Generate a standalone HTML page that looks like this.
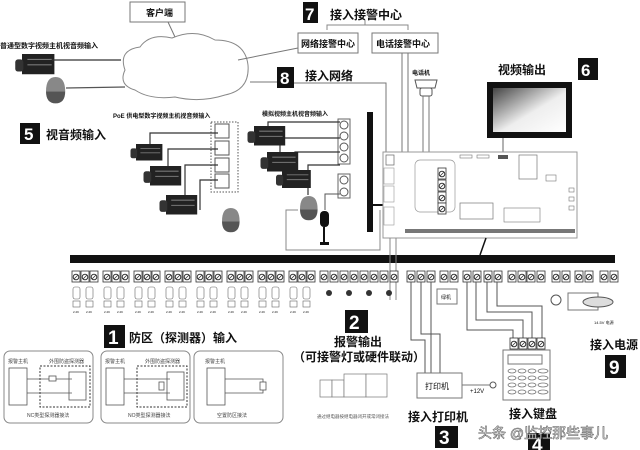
<!DOCTYPE html>
<html><head><meta charset="utf-8">
<style>
html,body{margin:0;padding:0;background:#fff;width:640px;height:450px;overflow:hidden}
svg{display:block}
text{font-family:"Liberation Sans","Noto Sans CJK SC",sans-serif;fill:#111}
.b{font-weight:bold}
</style></head><body>
<svg width="640" height="450" viewBox="0 0 640 450" xmlns="http://www.w3.org/2000/svg">
<defs>
<g id="cam">
 <rect x="0" y="0" width="24" height="15" fill="#222"/>
 <rect x="-5" y="4" width="6" height="9" fill="#333" rx="2"/>
 <line x1="4" y1="4" x2="22" y2="4" stroke="#777" stroke-width="0.8"/>
 <line x1="4" y1="8" x2="22" y2="8" stroke="#777" stroke-width="0.8"/>
</g>
<g id="dome">
 <path d="M0 12 Q0 0 8 0 Q16 0 16 12 Z" fill="#888"/>
 <path d="M0 12 L16 12 Q16 22 8 22 Q0 22 0 12Z" fill="#555"/>
</g>
<g id="scr">
 <rect x="0" y="0" width="8" height="11" fill="#fff" stroke="#333" stroke-width="0.8"/>
 <circle cx="4" cy="6" r="2.8" fill="none" stroke="#333" stroke-width="1"/>
 <line x1="2" y1="8" x2="6" y2="4" stroke="#333" stroke-width="0.8"/>
</g>
<g id="zone">
 <use href="#scr" x="0"/><use href="#scr" x="9"/><use href="#scr" x="18"/>
 <rect x="1" y="16" width="7" height="12" fill="none" stroke="#666" stroke-width="0.6" rx="2"/>
 <rect x="14" y="16" width="7" height="12" fill="none" stroke="#666" stroke-width="0.6" rx="2"/>
 <rect x="1" y="30" width="7" height="6" fill="none" stroke="#666" stroke-width="0.6"/>
 <rect x="14" y="30" width="7" height="6" fill="none" stroke="#666" stroke-width="0.6"/>
 <text x="1" y="42" font-size="3" fill="#555">2.2K</text><text x="14" y="42" font-size="3" fill="#555">2.2K</text>
</g>
<linearGradient id="mg" x1="0" y1="0" x2="1" y2="1"><stop offset="0" stop-color="#444"/><stop offset="0.55" stop-color="#eee"/><stop offset="1" stop-color="#fff"/></linearGradient>
</defs>

<!-- client & cloud -->
<rect x="130" y="2" width="55" height="20" fill="#fff" stroke="#777"/>
<text x="146" y="16" font-size="9" class="b">客户端</text>
<line x1="168" y1="22" x2="175" y2="37" stroke="#777"/>
<path d="M125 70 Q118 50 140 47 Q150 33 172 38 Q195 28 215 40 Q245 40 248 65 Q250 90 225 95 Q200 103 175 97 Q150 100 135 90 Q118 85 125 70Z" fill="#fff" stroke="#888"/>
<text x="0" y="48" font-size="7" class="b">普通型数字视频主机视音频输入</text>
<use href="#cam" transform="translate(22,54) scale(1.35)"/>
<line x1="52" y1="60" x2="121" y2="60" stroke="#333" stroke-width="1.2"/>
<use href="#dome" transform="translate(46,77) scale(1.2)"/>
<line x1="66" y1="88" x2="125" y2="87" stroke="#555" stroke-width="1.2"/>
<line x1="238" y1="60" x2="298" y2="48" stroke="#777"/>
<line x1="250" y1="82" x2="277" y2="82" stroke="#777"/>

<!-- 7 -->
<rect x="303" y="2" width="15" height="21" fill="#111"/>
<text x="305" y="20" font-size="17" class="b" style="fill:#fff">7</text>
<text x="330" y="19" font-size="12" class="b">接入接警中心</text>
<path d="M327 30 V25 H408 V30 M365 25 V20" fill="none" stroke="#888"/>
<rect x="298" y="33" width="60" height="20" fill="#fff" stroke="#777"/>
<text x="301" y="47" font-size="9" class="b">网络接警中心</text>
<rect x="372" y="33" width="66" height="20" fill="#fff" stroke="#777"/>
<text x="376" y="47" font-size="9" class="b">电话接警中心</text>
<!-- 8 -->
<rect x="277" y="67" width="17" height="21" fill="#111"/>
<text x="280" y="84" font-size="17" class="b" style="fill:#fff">8</text>
<text x="305" y="80" font-size="12" class="b">接入网络</text>
<polyline points="294,83 386,83 386,155" fill="none" stroke="#777"/>
<polyline points="402,53 402,203 435,203" fill="none" stroke="#777"/>
<polyline points="408,53 408,198 430,198" fill="none" stroke="#777"/>
<text x="412" y="75" font-size="6" class="b">电话机</text>
<path d="M415 80 H437 L435 88 H417Z" fill="#fff" stroke="#555"/>
<rect x="420" y="88" width="12" height="8" fill="#fff" stroke="#555" rx="2"/>
<polyline points="423,96 423,176 438,176" fill="none" stroke="#777"/>
<polyline points="429,96 429,168 438,168" fill="none" stroke="#777"/>

<!-- 6 monitor -->
<text x="498" y="74" font-size="12" class="b">视频输出</text>
<rect x="578" y="58" width="20" height="22" fill="#111"/>
<text x="581" y="76" font-size="17" class="b" style="fill:#fff">6</text>
<rect x="487" y="82" width="85" height="56" fill="#111"/>
<rect x="493" y="88" width="73" height="44" fill="url(#mg)"/>
<line x1="503" y1="138" x2="503" y2="158" stroke="#666"/>

<!-- black bar -->
<rect x="367" y="112" width="6" height="120" fill="#111"/>
<line x1="373" y1="205" x2="383" y2="205" stroke="#111" stroke-width="2"/>
<!-- board -->
<rect x="383" y="152" width="194" height="86" fill="#fff" stroke="#999"/>
<rect x="386" y="155" width="8" height="10" fill="none" stroke="#666" stroke-width="0.7"/>
<rect x="384" y="168" width="10" height="16" fill="none" stroke="#999" stroke-width="0.6"/>
<rect x="384" y="186" width="10" height="16" fill="none" stroke="#999" stroke-width="0.6"/>
<rect x="384" y="207" width="10" height="18" fill="none" stroke="#999" stroke-width="0.6"/>
<rect x="415" y="160" width="40" height="52" fill="none" stroke="#999" stroke-width="0.7" rx="5"/>
<use href="#scr" x="438" y="168"/><use href="#scr" x="438" y="180"/><use href="#scr" x="438" y="192"/><use href="#scr" x="438" y="203"/>
<rect x="460" y="203" width="33" height="16" fill="none" stroke="#777" stroke-width="0.7"/>
<rect x="460" y="155" width="12" height="3" fill="none" stroke="#777" stroke-width="0.6"/>
<rect x="477" y="155" width="12" height="3" fill="none" stroke="#777" stroke-width="0.6"/>
<rect x="498" y="155" width="10" height="4" fill="#555"/>
<rect x="519" y="155" width="18" height="24" fill="none" stroke="#777" stroke-width="0.7"/>
<rect x="546" y="175" width="10" height="6" fill="none" stroke="#777" stroke-width="0.6"/>
<rect x="569" y="188" width="5" height="4" fill="none" stroke="#777" stroke-width="0.6"/>
<rect x="569" y="197" width="5" height="4" fill="none" stroke="#777" stroke-width="0.6"/>
<rect x="569" y="206" width="5" height="4" fill="none" stroke="#777" stroke-width="0.6"/>
<rect x="504" y="208" width="36" height="14" fill="none" stroke="#777" stroke-width="0.6"/>
<rect x="405" y="229" width="170" height="4" fill="#777"/>
<line x1="486" y1="238" x2="480" y2="255" stroke="#111" stroke-width="1.5"/>

<!-- 5 -->
<rect x="20" y="123" width="20" height="21" fill="#111"/>
<text x="24" y="140" font-size="17" class="b" style="fill:#fff">5</text>
<text x="46" y="139" font-size="12" class="b">视音频输入</text>
<text x="113" y="118" font-size="6" class="b">PoE 供电型数字视频主机视音频输入</text>
<rect x="211" y="122" width="27" height="70" fill="none" stroke="#555" stroke-dasharray="1.5,1.5"/>
<rect x="215" y="124" width="14" height="14" fill="#fff" stroke="#555"/>
<rect x="215" y="141" width="14" height="14" fill="#fff" stroke="#555"/>
<rect x="215" y="158" width="14" height="14" fill="#fff" stroke="#555"/>
<rect x="215" y="174" width="14" height="14" fill="#fff" stroke="#555"/>
<polyline points="150,150 150,133 218,133" fill="none" stroke="#333" stroke-width="1.2"/>
<polyline points="168,168 168,149 218,149" fill="none" stroke="#333" stroke-width="1.2"/>
<polyline points="185,196 185,165 218,165" fill="none" stroke="#333" stroke-width="1.2"/>
<polyline points="200,210 200,180 218,180" fill="none" stroke="#333" stroke-width="1.2"/>
<use href="#cam" transform="translate(136,144) scale(1.1)"/>
<use href="#cam" transform="translate(150,166) scale(1.3)"/>
<use href="#cam" transform="translate(166,195) scale(1.3)"/>
<use href="#dome" transform="translate(222,208) scale(1.1)"/>
<text x="262" y="116" font-size="6" class="b">模拟视频主机视音频输入</text>
<rect x="338" y="119" width="12" height="45" fill="#fff" stroke="#666"/>
<circle cx="344" cy="125" r="4" fill="none" stroke="#555"/><circle cx="344" cy="136" r="4" fill="none" stroke="#555"/>
<circle cx="344" cy="147" r="4" fill="none" stroke="#555"/><circle cx="344" cy="158" r="4" fill="none" stroke="#555"/>
<rect x="338" y="174" width="12" height="24" fill="#fff" stroke="#666"/>
<circle cx="344" cy="180" r="4" fill="none" stroke="#555"/><circle cx="344" cy="192" r="4" fill="none" stroke="#555"/>
<polyline points="268,128 268,122 340,122" fill="none" stroke="#333" stroke-width="1.2"/>
<polyline points="280,152 280,138 340,138" fill="none" stroke="#333" stroke-width="1.2"/>
<polyline points="295,170 295,152 340,152" fill="none" stroke="#333" stroke-width="1.2"/>
<polyline points="308,195 308,165 340,165" fill="none" stroke="#333" stroke-width="1.2"/>
<polyline points="325,210 325,194 340,194" fill="none" stroke="#555"/>
<use href="#cam" transform="translate(254,126) scale(1.3)"/>
<use href="#cam" transform="translate(267,152) scale(1.3)"/>
<use href="#cam" transform="translate(282,170) scale(1.2)"/>
<use href="#dome" transform="translate(300,196) scale(1.1)"/>
<rect x="320" y="211" width="9" height="16" rx="4" fill="#111"/>
<line x1="324" y1="227" x2="324" y2="242" stroke="#111" stroke-width="2"/>
<rect x="320" y="242" width="9" height="3" fill="#111"/>
<polyline points="298,210 286,210 286,250 380,250 380,210" fill="none" stroke="#888"/>

<!-- bus -->
<rect x="70" y="255" width="545" height="8" fill="#111"/>
<line x1="390" y1="238" x2="390" y2="300" stroke="#888"/>
<line x1="396" y1="238" x2="396" y2="300" stroke="#888"/>

<!-- zones -->
<g transform="translate(72,271)">
<use href="#zone" x="0"/><use href="#zone" x="31"/><use href="#zone" x="62"/><use href="#zone" x="93"/>
<use href="#zone" x="124"/><use href="#zone" x="155"/><use href="#zone" x="186"/><use href="#zone" x="217"/>
</g>
<!-- outputs -->
<g transform="translate(320,271)">
<use href="#scr" x="0"/><use href="#scr" x="10"/><use href="#scr" x="20"/><use href="#scr" x="30"/>
<use href="#scr" x="40"/><use href="#scr" x="50"/><use href="#scr" x="60"/><use href="#scr" x="70"/>
<circle cx="9" cy="22" r="3" fill="#333"/><circle cx="29" cy="22" r="3" fill="#333"/><circle cx="49" cy="22" r="3" fill="#333"/><circle cx="69" cy="22" r="3" fill="#333"/>
</g>
<g transform="translate(407,271)">
<use href="#scr" x="0"/><use href="#scr" x="10"/><use href="#scr" x="20"/>
<use href="#scr" x="33"/><use href="#scr" x="43"/>
<use href="#scr" x="56"/><use href="#scr" x="66"/><use href="#scr" x="77"/><use href="#scr" x="87"/>
<use href="#scr" x="101"/><use href="#scr" x="111"/>
<use href="#scr" x="120"/><use href="#scr" x="130"/>
<use href="#scr" x="145"/><use href="#scr" x="155"/>
<use href="#scr" x="168"/><use href="#scr" x="178"/>
<use href="#scr" x="193"/><use href="#scr" x="203"/>
</g>
<rect x="437" y="289" width="20" height="15" fill="#fff" stroke="#777"/>
<text x="441" y="299" font-size="5">绿机</text>
<circle cx="556" cy="300" r="5" fill="#fff" stroke="#555"/>
<rect x="568" y="293" width="30" height="17" fill="#fff" stroke="#777"/>
<ellipse cx="598" cy="302" rx="15" ry="5" fill="#ddd" stroke="#555"/>
<text x="594" y="324" font-size="4">14.5V 电源</text>

<!-- printer lines -->
<polyline points="411,282 411,340 425,340 425,373" fill="none" stroke="#555"/>
<polyline points="421,282 421,334 440,334 440,373" fill="none" stroke="#555"/>
<polyline points="431,282 431,373" fill="none" stroke="#555"/>
<rect x="417" y="373" width="45" height="25" fill="#fff" stroke="#777"/>
<text x="425" y="389" font-size="8">打印机</text>
<line x1="462" y1="385" x2="490" y2="385" stroke="#777"/>
<circle cx="493" cy="385" r="3" fill="#fff" stroke="#555"/>
<text x="470" y="393" font-size="6">+12V</text>
<!-- keyboard lines -->
<polyline points="467,282 467,330 513,330 513,338" fill="none" stroke="#555"/>
<polyline points="476,282 476,320 523,320 523,338" fill="none" stroke="#555"/>
<polyline points="487,282 487,312 532,312 532,338" fill="none" stroke="#555"/>
<polyline points="497,282 497,306 542,306 542,338" fill="none" stroke="#555"/>
<use href="#scr" x="510" y="338"/><use href="#scr" x="519" y="338"/><use href="#scr" x="528" y="338"/><use href="#scr" x="537" y="338"/>
<rect x="503" y="350" width="47" height="50" fill="#fff" stroke="#777"/>
<rect x="508" y="355" width="34" height="9" fill="#fff" stroke="#777"/>
<g fill="none" stroke="#777" stroke-width="0.8">
<ellipse cx="512" cy="371" rx="4" ry="2"/><ellipse cx="522" cy="371" rx="4" ry="2"/><ellipse cx="532" cy="371" rx="4" ry="2"/><ellipse cx="543" cy="371" rx="5" ry="2"/>
<ellipse cx="512" cy="378" rx="4" ry="2"/><ellipse cx="522" cy="378" rx="4" ry="2"/><ellipse cx="532" cy="378" rx="4" ry="2"/><ellipse cx="543" cy="378" rx="5" ry="2"/>
<ellipse cx="512" cy="385" rx="4" ry="2"/><ellipse cx="522" cy="385" rx="4" ry="2"/><ellipse cx="532" cy="385" rx="4" ry="2"/><ellipse cx="543" cy="385" rx="5" ry="2"/>
<ellipse cx="512" cy="392" rx="4" ry="2"/><ellipse cx="522" cy="392" rx="4" ry="2"/><ellipse cx="532" cy="392" rx="4" ry="2"/><ellipse cx="543" cy="392" rx="5" ry="2"/>
</g>

<!-- 1 -->
<rect x="104" y="325" width="21" height="23" fill="#111"/>
<text x="108" y="344" font-size="19" class="b" style="fill:#fff">1</text>
<text x="129" y="342" font-size="12" class="b">防区（探测器）输入</text>
<g fill="none" stroke="#888">
<rect x="4" y="351" width="89" height="72" rx="6"/>
<rect x="101" y="351" width="89" height="72" rx="6"/>
<rect x="194" y="351" width="89" height="72" rx="6"/>
</g>
<g fill="#fff" stroke="#555" stroke-width="0.8">
<rect x="9" y="368" width="18" height="37"/>
<rect x="106" y="368" width="18" height="37"/>
<rect x="207" y="368" width="18" height="37"/>
<rect x="69" y="372" width="17" height="28"/>
<rect x="167" y="372" width="17" height="28"/>
</g>
<g fill="none" stroke="#333" stroke-dasharray="2,1.5">
<rect x="40" y="366" width="50" height="41"/>
<rect x="137" y="366" width="50" height="41"/>
</g>
<g stroke="#555" fill="none" stroke-width="0.8">
<line x1="27" y1="379" x2="72" y2="379"/><line x1="27" y1="393" x2="72" y2="393"/>
<rect x="49" y="376" width="7" height="5" fill="#fff"/>
<line x1="124" y1="379" x2="170" y2="379"/><line x1="124" y1="393" x2="170" y2="393"/>
<rect x="159" y="382" width="5" height="8" fill="#fff"/>
<polyline points="225,379 263,379 263,393 225,393"/>
<rect x="260" y="382" width="6" height="8" fill="#fff"/>
</g>
<g font-size="5">
<text x="8" y="363" style="fill:#444">报警主机</text><text x="49" y="363" style="fill:#444">外围防盗探测器</text>
<text x="105" y="363" style="fill:#444">报警主机</text><text x="145" y="363" style="fill:#444">外围防盗探测器</text>
<text x="205" y="363" style="fill:#444">报警主机</text>
<text x="27" y="417" style="fill:#444">NC类型探测器接法</text>
<text x="128" y="417" style="fill:#444">NO类型探测器接法</text>
<text x="217" y="417" style="fill:#444">空置防区接法</text>
</g>

<!-- 2 -->
<rect x="345" y="310" width="23" height="23" fill="#111"/>
<text x="349" y="329" font-size="19" class="b" style="fill:#fff">2</text>
<text x="334" y="346" font-size="12" class="b">报警输出</text>
<text x="293" y="361" font-size="12" class="b">（可接警灯或硬件联动）</text>
<g fill="#fff" stroke="#777" stroke-width="0.7">
<rect x="320" y="380" width="12" height="17"/><rect x="332" y="380" width="12" height="17"/>
<rect x="344" y="374" width="22" height="23"/><rect x="366" y="374" width="21" height="23"/>
</g>
<text x="317" y="418" font-size="4.5" style="fill:#555">通过继电器按继电器闭开或常闭接法</text>

<text x="408" y="421" font-size="12" class="b">接入打印机</text>
<rect x="435" y="426" width="23" height="22" fill="#111"/>
<text x="439" y="444" font-size="19" class="b" style="fill:#fff">3</text>
<text x="509" y="418" font-size="12" class="b">接入键盘</text>
<rect x="528" y="433" width="22" height="17" fill="#111"/>
<text x="532" y="451" font-size="19" class="b" style="fill:#fff">4</text>
<text x="590" y="349" font-size="12" class="b">接入电源</text>
<rect x="605" y="355" width="21" height="23" fill="#111"/>
<text x="609" y="374" font-size="19" class="b" style="fill:#fff">9</text>

<text x="478" y="438" font-size="14" style="fill:#fff;stroke:#666;stroke-width:0.6">头条 @监控那些事儿</text>
</svg>
</body></html>
